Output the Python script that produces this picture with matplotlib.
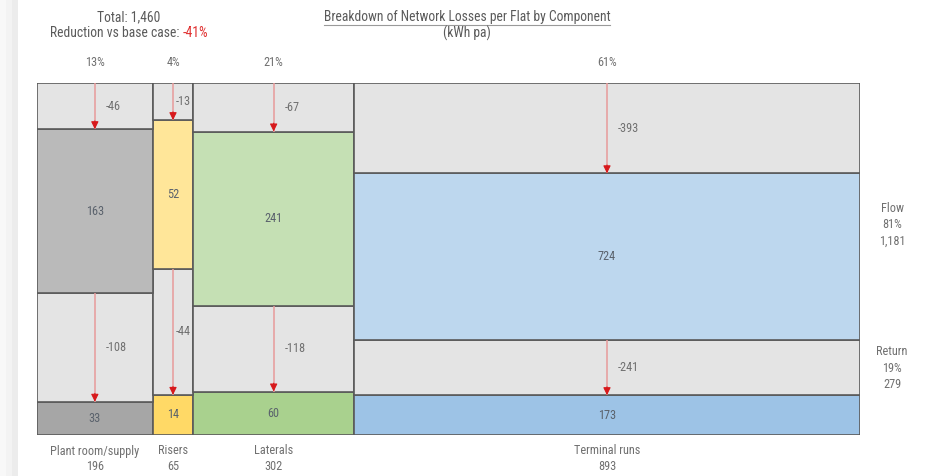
import numpy as np
import matplotlib
matplotlib.use("Agg")
from matplotlib import pyplot as plt
from matplotlib import font_manager
from matplotlib.patches import Rectangle
from matplotlib.lines import Line2D

components = ["Plant room/supply", "Risers", "Laterals", "Terminal runs"]
flow_now = [163, 52, 241, 724]
flow_cut = [46, 13, 67, 393]
return_now = [33, 14, 60, 173]
return_cut = [108, 44, 118, 241]
comp_totals = [196, 65, 302, 893]
grand_total = 1460
reduction_pct = -41
flow_total = 1181
return_total = 279

flow_colors = ["#bababa", "#ffe699", "#c5e0b4", "#bdd7ee"]
return_colors = ["#a6a6a6", "#ffd966", "#a9d18e", "#9dc3e6"]
cut_color = "#e4e4e4"
edge = "#5a5a5a"
txt = "#707070"
val_txt = "#5a626c"

names = {f.name for f in font_manager.fontManager.ttflist}
for fam in ["Liberation Sans Narrow", "Roboto Condensed", "Roboto", "DejaVu Sans"]:
    if fam in names:
        plt.rcParams["font.family"] = fam
        break
fs = 8.8
hfs = 9.8

W, H = 927, 476
fig = plt.figure(figsize=(W / 100, H / 100), dpi=100)
fig.patch.set_facecolor("white")

# page shadow strip on the left
for x0, c in [(0, "#f8f8f8"), (6, "#f3f3f3"), (12, "#ececec")]:
    fig.add_artist(Rectangle((x0 / W, 0), 6 / W, 1, transform=fig.transFigure,
                             color=c, lw=0))

ax = fig.add_axes([37 / W, 41 / H, 823 / W, 352 / H])

base = np.array(flow_now) + np.array(flow_cut) + np.array(return_now) + np.array(return_cut)
lefts = np.concatenate([[0], np.cumsum(base)[:-1]])
centers = lefts + base / 2

# stack from bottom: return now, return cut, flow now, flow cut
segs = [return_now, return_cut, flow_now, flow_cut]
bottom = np.zeros(4)
bounds = []
for k, seg in enumerate(segs):
    h = np.array(seg) / base
    cols = [return_colors, [cut_color] * 4, flow_colors, [cut_color] * 4][k]
    ax.bar(lefts, h, width=base, bottom=bottom, align="edge", color=cols,
           edgecolor=edge, linewidth=1.2, zorder=2)
    bounds.append((bottom.copy(), bottom + h))
    bottom = bottom + h

px = 72 / 100  # points per pixel

for i in range(4):
    # values in the current boxes
    for k in (0, 2):
        b0, b1 = bounds[k][0][i], bounds[k][1][i]
        ax.text(centers[i], (b0 + b1) / 2, f"{segs[k][i]}", ha="center", va="center",
                fontsize=fs, color=val_txt, zorder=4)
    # reduction arrows
    for k in (1, 3):
        b0, b1 = bounds[k][0][i], bounds[k][1][i]
        ax.plot([centers[i], centers[i]], [b1, b0], color="#e79a9a", lw=1.1, zorder=3,
                solid_capstyle="butt")
        ax.annotate("", xy=(centers[i], b0), xytext=(0, 6), textcoords="offset points",
                    arrowprops=dict(arrowstyle="-|>,head_width=0.22,head_length=0.45",
                                    color="#d7191c", lw=0.8, shrinkA=0, shrinkB=0),
                    zorder=4)
        off = 2 if i == 1 else 8
        ax.annotate(f"-{segs[k][i]}", xy=(centers[i], (b0 + b1) / 2), xytext=(off, 0),
                    textcoords="offset points", ha="left", va="center",
                    fontsize=fs, color=txt, zorder=4)
    # share on top, name + total below
    ax.annotate(f"{comp_totals[i] / grand_total:.0%}", xy=(centers[i], 1),
                xycoords=("data", "axes fraction"), xytext=(0, 20 * px),
                textcoords="offset points", ha="center", va="center",
                fontsize=fs, color=txt)
    ax.annotate(components[i], xy=(centers[i], 0), xycoords=("data", "axes fraction"),
                xytext=(0, -16 * px), textcoords="offset points", ha="center", va="center",
                fontsize=fs, color=txt)
    ax.annotate(f"{comp_totals[i]:,}", xy=(centers[i], 0), xycoords=("data", "axes fraction"),
                xytext=(0, -31 * px), textcoords="offset points", ha="center", va="center",
                fontsize=fs, color=txt)

ax.set_xlim(0, base.sum())
ax.set_ylim(0, 1)
ax.axis("off")

# flow / return labels on the right
fig.text(892 / W, 1 - 225 / H, f"Flow\n{flow_total / grand_total:.0%}\n{flow_total:,}",
         ha="center", va="center", fontsize=fs, color=txt, linespacing=1.35)
fig.text(892 / W, 1 - 368 / H, f"Return\n{return_total / grand_total:.0%}\n{return_total:,}",
         ha="center", va="center", fontsize=fs, color=txt, linespacing=1.35)

# header
fig.text(129 / W, 1 - 17 / H, f"Total: {grand_total:,}", ha="center", va="center",
         fontsize=hfs, color="#5a5a5a")
red_part = f"{reduction_pct}%"
lead = fig.text(129 / W, 1 - 33 / H, "Reduction vs base case: ", ha="center", va="center",
                fontsize=hfs, color="#5a5a5a")
title = fig.text(467 / W, 1 - 17 / H, "Breakdown of Network Losses per Flat by Component",
                 ha="center", va="center", fontsize=hfs, color="#5a5a5a")
fig.text(467 / W, 1 - 33 / H, "(kWh pa)", ha="center", va="center",
         fontsize=hfs, color="#5a5a5a")

fig.canvas.draw()
r = fig.canvas.get_renderer()
bb = lead.get_window_extent(r)
red = fig.text(0, 0, red_part, fontsize=hfs, color="#e03030", va="center", ha="left")
rw = red.get_window_extent(r).width
# recentre the pair
total_w = bb.width + rw
x_start = 129 - total_w / 2
lead.set_ha("left")
lead.set_x(x_start / W)
red.set_position(((x_start + bb.width) / W, 1 - 33 / H))

tb = title.get_window_extent(r)
fig.add_artist(Line2D([tb.x0 / W, tb.x1 / W], [(tb.y0 - 1) / H] * 2,
                      transform=fig.transFigure, color="#9a9a9a", lw=0.8))

fig.savefig("out.png", dpi=100)
